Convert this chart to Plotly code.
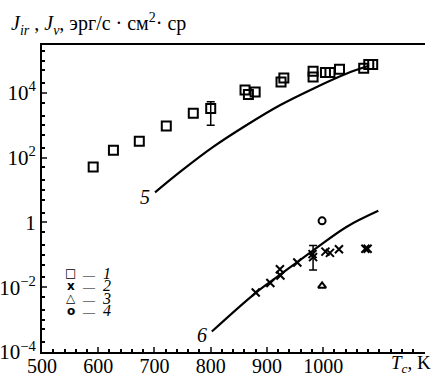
import plotly.graph_objects as go

# ---- data ----
T1 = [591, 627, 673, 721, 769, 800, 861, 867, 879, 925, 930, 982, 982, 1004, 1012, 1029, 1072, 1081, 1088]
J1 = [52, 170, 320, 950, 2340, 3300, 12300, 8900, 10700, 21900, 28800, 46800, 30900, 42700, 42700, 53700, 57500, 75900, 75900]
T2 = [880, 906, 923, 924, 954, 981, 982, 1004, 1012, 1028, 1075, 1079]
J2 = [0.0069, 0.0135, 0.036, 0.023, 0.058, 0.105, 0.085, 0.126, 0.115, 0.148, 0.155, 0.155]
T3 = [998]
J3 = [0.011]
T4 = [998]
J4 = [1.12]
# error bars (one point of series 1 and one of series 2)
errT = [800, 982]
errJ = [3300, 0.085]
err_hi = [2070, 0.110]
err_lo = [2300, 0.051]
# calculated curves
T5 = [701, 746, 805, 864, 923, 983, 1042, 1080]
J5 = [8.5, 37, 219, 1023, 4170, 13800, 39800, 67600]
T6 = [802, 879, 923, 983, 1042, 1098]
J6 = [4.3e-4, 6.5e-3, 0.024, 0.141, 0.74, 2.29]

legend_symbols = ["□", "x", "△", "o"]
legend_labels = ["1", "2", "3", "4"]

tickvals_y = [1e-4, 1e-2, 1, 1e2, 1e4]
ticktext_y = ["10<sup>−4</sup>", "10<sup>−2</sup>", "1", "10<sup>2</sup>", "10<sup>4</sup>"]
tickvals_x = [500, 600, 700, 800, 900, 1000]

SERIF = "Liberation Serif"
fig = go.Figure()

fig.add_trace(go.Scatter(x=T5, y=J5, mode="lines", line=dict(color="black", width=2.2, shape="spline"), showlegend=False))
fig.add_trace(go.Scatter(x=T6, y=J6, mode="lines", line=dict(color="black", width=2.2, shape="spline"), showlegend=False))

fig.add_trace(go.Scatter(x=errT, y=errJ, mode="markers", marker=dict(size=1, color="rgba(0,0,0,0)"),
                         error_y=dict(type="data", array=err_hi, arrayminus=err_lo, color="black", thickness=1.5, width=4),
                         showlegend=False))

mk = dict(color="black", line=dict(color="black", width=2))
fig.add_trace(go.Scatter(x=T1, y=J1, mode="markers", showlegend=False,
                         marker=dict(symbol="square-open", size=9, **mk)))
fig.add_trace(go.Scatter(x=T2, y=J2, mode="markers", showlegend=False,
                         marker=dict(symbol="x-thin-open", size=8, **mk)))
fig.add_trace(go.Scatter(x=T3, y=J3, mode="markers", showlegend=False,
                         marker=dict(symbol="triangle-up-open", size=7, **mk)))
fig.add_trace(go.Scatter(x=T4, y=J4, mode="markers", showlegend=False,
                         marker=dict(symbol="circle-open", size=7, **mk)))

# legend (text-based, compact like the original)
for i, (s, lab) in enumerate(zip(legend_symbols, legend_labels)):
    yy = 0.257 - i * 0.041
    fig.add_annotation(x=0.0757, y=yy, xref="paper", yref="paper", xanchor="center", yanchor="middle",
                       text="<b>" + s + "</b>", showarrow=False,
                       font=dict(family="DejaVu Sans", size=12, color="black"))
    fig.add_annotation(x=0.099, y=yy, xref="paper", yref="paper", xanchor="left", yanchor="middle",
                       text="<span style='font-size:12px'>—</span>  <i>" + lab + "</i>", showarrow=False, height=13,
                       font=dict(family=SERIF, size=16, color="black"))

fig.add_annotation(x=684, y=0.79, xref="x", yref="y", text="<i>5</i>", showarrow=False,
                   font=dict(family=SERIF, size=20, color="black"))
fig.add_annotation(x=785, y=-3.48, xref="x", yref="y", text="<i>6</i>", showarrow=False,
                   font=dict(family=SERIF, size=20, color="black"))

fig.add_annotation(x=0, y=1, xref="paper", yref="paper", xanchor="left", yanchor="bottom",
                   xshift=-33, yshift=5,
                   text="<i>J</i><sub><i>ir</i></sub> , <i>J</i><sub><i>v</i></sub>, эрг/с · см<sup>2</sup>· ср",
                   showarrow=False, font=dict(family=SERIF, size=20, color="black"))
fig.add_annotation(x=1, y=0, xref="paper", yref="paper", xanchor="right", yanchor="middle",
                   xshift=8, yshift=-12,
                   text="<i>T</i><sub><i>c</i></sub>, K",
                   showarrow=False, font=dict(family=SERIF, size=19, color="black"))

fig.update_layout(
    width=435, height=377,
    margin=dict(l=42, r=10, t=45, b=25),
    paper_bgcolor="white", plot_bgcolor="white",
    font=dict(family=SERIF, size=20, color="black"),
    showlegend=False,
    xaxis=dict(range=[500, 1181], tickvals=tickvals_x, ticks="inside", ticklen=5, tickwidth=1.5,
               automargin=False, ticklabelstandoff=-5,
               showline=True, linecolor="black", linewidth=2, mirror=True, showgrid=False, zeroline=False,
               minor=dict(dtick=20, ticks="inside", ticklen=3, tickcolor="black", showgrid=False),
               tickfont=dict(family=SERIF, size=20)),
    yaxis=dict(type="log", range=[-4, 5.48], tickvals=tickvals_y, ticktext=ticktext_y, ticks="inside",
               automargin=False,
               ticklen=5, tickwidth=1.5, showline=True, linecolor="black", linewidth=2, showgrid=False,
               zeroline=False,
               minor=dict(ticks="inside", ticklen=3, tickcolor="black", showgrid=False),
               tickfont=dict(family=SERIF, size=21)),
)

# remove the default 8px page margin so the figure fills the window exactly
fig.write_html("out.html", config={"displayModeBar": False},
               post_script="document.body.style.margin='0';document.body.style.overflow='hidden';")
